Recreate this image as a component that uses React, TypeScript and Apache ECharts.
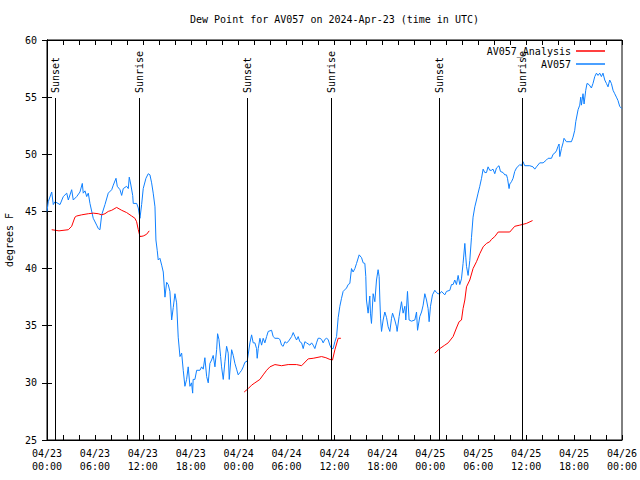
import React, { useEffect, useRef } from "react";
import * as echarts from "echarts";

// Hours since 2024-04-23 00:00 UTC
const obsHours = [0.0,0.16,0.59,0.79,1.0,1.63,2.04,2.47,2.67,3.09,3.29,3.72,4.13,4.42,4.54,4.76,4.97,5.17,5.38,5.79,6.22,6.42,6.63,6.85,7.26,7.67,8.1,8.3,8.64,8.8,9.14,9.35,9.55,9.97,10.18,10.3,10.48,10.73,10.8,11.23,11.43,11.64,11.85,12.05,12.39,12.68,12.89,13.1,13.3,13.52,13.64,13.8,13.93,14.14,14.36,14.56,14.77,14.98,15.18,15.39,15.61,15.81,16.02,16.23,16.43,16.65,16.86,17.06,17.27,17.48,17.68,17.9,18.1,18.24,18.3,18.52,18.74,19.15,19.36,19.56,19.77,19.99,20.19,20.4,20.61,20.81,21.03,21.24,21.36,21.53,21.74,21.86,22.07,22.28,22.49,22.69,22.82,23.12,23.32,23.53,23.74,23.94,24.15,24.37,24.57,24.78,25.07,25.41,25.62,25.82,26.03,26.24,26.32,26.45,26.66,26.87,27.07,27.28,27.5,27.7,28.12,28.32,28.54,28.95,29.16,29.37,29.57,29.79,30.0,30.2,30.63,30.83,31.04,31.25,31.45,31.66,31.88,32.08,32.29,32.5,32.92,33.13,33.33,33.54,33.75,33.95,34.17,34.38,34.58,34.79,35.0,35.2,35.42,35.63,35.83,36.05,36.26,36.46,36.67,36.88,37.08,37.51,37.71,37.92,38.13,38.33,38.55,38.76,39.09,39.39,39.59,39.8,39.92,40.0,40.21,40.42,40.5,40.63,40.84,41.05,41.26,41.46,41.59,41.68,41.77,41.89,42.09,42.3,42.52,42.72,42.93,43.14,43.27,43.55,43.77,43.84,44.09,44.39,44.59,44.81,44.93,45.14,45.34,45.64,46.06,46.27,46.4,46.68,46.9,47.1,47.31,47.52,47.72,47.85,48.02,48.27,48.56,48.77,48.97,49.19,49.4,49.81,50.02,50.44,50.65,50.85,51.06,51.27,51.48,51.69,51.9,52.1,52.32,52.44,52.53,52.73,52.94,53.15,53.35,53.57,53.78,53.98,54.19,54.41,54.61,54.82,55.03,55.23,55.44,55.65,55.85,56.07,56.28,56.6,56.78,57.11,57.32,57.53,57.66,57.86,57.95,58.16,58.36,58.57,58.79,59.2,59.41,59.61,59.82,60.45,60.86,61.08,61.29,61.7,62.12,62.54,62.75,63.17,63.37,63.58,63.79,63.99,64.12,64.21,64.42,64.62,64.74,65.04,65.67,65.87,66.08,66.21,66.5,66.71,66.83,66.92,67.12,67.25,67.46,67.62,67.87,68.17,68.37,68.59,68.8,69.0,69.21,69.42,69.62,69.84,70.05,70.25,70.46,70.67,70.88,71.09,71.3,71.5,71.71,71.96];
const obsDew = [45.0,45.85,46.7,45.6,45.85,45.6,46.3,46.6,46.0,46.9,46.0,46.3,46.7,47.45,46.6,46.8,46.3,46.6,45.7,44.4,43.8,43.5,43.4,44.7,45.6,46.6,46.9,47.3,47.9,47.2,46.9,46.4,47.0,47.2,47.0,48.0,47.4,46.4,45.7,45.7,45.3,44.4,45.6,47.0,47.9,48.3,48.2,47.5,46.6,45.4,42.5,41.6,40.75,40.9,40.3,39.7,37.5,38.8,38.6,38.0,35.5,36.6,37.8,37.0,34.0,32.3,32.6,31.1,29.7,30.3,31.4,29.7,30.0,29.1,30.3,30.3,31.1,31.1,31.4,31.2,32.2,30.55,30.0,31.7,32.0,32.4,31.4,32.9,34.3,33.8,32.3,31.4,30.3,31.85,33.2,32.6,30.3,32.9,32.4,31.7,31.2,30.7,30.9,31.1,31.4,31.8,31.9,33.5,34.2,33.5,33.5,33.0,32.15,33.0,33.9,33.3,33.9,33.5,34.05,34.5,34.6,34.05,33.9,33.9,33.8,33.3,33.2,33.6,33.5,33.6,34.05,34.4,34.05,33.75,34.05,33.6,33.5,33.0,33.6,33.5,33.3,33.5,33.3,33.0,33.5,33.9,33.9,33.8,33.5,33.8,33.9,33.8,33.3,33.0,33.0,33.6,34.05,35.7,36.7,37.4,38.0,38.3,38.6,38.7,40.0,39.7,40.0,40.45,41.2,40.95,40.5,40.45,39.3,37.25,36.1,37.6,36.1,35.2,37.8,37.1,39.0,39.9,39.3,37.25,35.6,34.5,35.5,36.2,35.7,34.9,34.5,35.65,36.1,35.5,34.9,34.5,35.8,37.1,36.1,36.7,35.5,38.0,35.5,35.4,35.5,36.2,34.6,35.8,36.2,36.8,37.8,37.25,36.5,35.35,36.7,37.7,38.1,37.9,37.8,37.8,38.0,37.7,38.0,38.1,38.6,38.6,39.0,38.6,39.4,38.6,39.1,40.45,42.2,41.0,40.2,39.4,40.7,42.7,44.5,45.4,46.0,46.6,47.2,47.9,48.7,48.4,48.4,48.9,48.6,48.6,48.7,48.3,48.8,49.0,48.5,48.4,48.2,48.2,47.9,47.0,47.4,47.6,47.9,48.5,48.8,49.1,49.0,49.35,49.0,49.0,48.9,48.7,48.9,49.25,49.25,49.5,49.65,49.65,50.0,50.1,50.3,50.7,50.9,49.8,50.5,51.0,51.4,51.1,51.1,51.5,52.1,52.85,53.9,54.3,55.0,54.3,55.3,54.4,55.6,56.2,56.1,55.8,56.2,56.8,57.1,56.9,57.1,56.8,57.1,56.5,56.2,55.9,56.5,56.2,55.6,55.3,55.0,54.7,54.2,54.0];

// Analysis values; null marks the gaps between runs
const anaHours = [0.59,1.5,2.67,3.09,3.5,3.72,4.33,5.17,5.79,6.42,6.85,7.26,7.67,8.1,8.72,9.35,9.97,10.6,11.01,11.22,11.43,11.64,12.05,12.47,12.8,18.0,24.69,25.2,25.62,26.03,26.66,27.07,27.5,27.91,28.54,29.37,30.2,31.25,31.88,32.71,33.33,34.38,34.92,35.42,35.75,36.05,36.46,36.8,42.0,48.56,49.19,49.81,50.23,50.85,51.27,51.6,51.9,52.1,52.32,52.53,52.94,53.35,53.78,54.19,54.61,55.03,55.44,55.65,56.07,56.5,57.95,58.57,59.2,60.03,60.8];
const anaDew = [43.4,43.3,43.4,43.7,44.5,44.6,44.7,44.8,44.85,44.8,44.7,44.8,45.0,45.1,45.35,45.1,44.9,44.6,44.4,44.1,43.4,42.8,42.85,43.0,43.3,null,29.2,29.5,29.8,30.0,30.3,30.7,31.1,31.4,31.6,31.5,31.6,31.6,31.5,32.1,32.15,32.3,32.2,32.05,32.0,32.9,33.9,33.9,null,32.6,33.0,33.3,33.5,34.05,34.8,35.35,35.5,36.5,37.25,38.4,39.0,40.0,40.6,41.3,41.9,42.2,42.35,42.55,42.8,43.2,43.2,43.7,43.8,43.95,44.2];

const sunHours = [1.0, 11.5, 25.0, 35.5, 49.05, 59.45];
const sunLabels = ["Sunset", "Sunrise", "Sunset", "Sunrise", "Sunset", "Sunrise"];

const FONT = "DejaVu Sans Mono";

function fmtHour(v: number): string {
  if (Math.abs(v % 6) > 1e-6) return "";
  const day = 23 + Math.floor(v / 24);
  const hh = Math.round(v % 24);
  return "04/" + String(day).padStart(2, "0") + "\n" + String(hh).padStart(2, "0") + ":00";
}

export default function App() {
  const ref = useRef<HTMLDivElement>(null);
  useEffect(() => {
    if (!ref.current) return;
    const chart = echarts.init(ref.current, undefined, { renderer: "svg" });
    const tickStyle = { show: true, inside: true, length: 5, lineStyle: { color: "#000", width: 1 } };
    const option: any = {
      animation: false,
      backgroundColor: "#fff",
      textStyle: { fontFamily: FONT, fontSize: 10, color: "#000" },
      title: {
        text: "Dew Point for AV057 on 2024-Apr-23 (time in UTC)",
        left: 185,
        top: 9,
        textStyle: { fontFamily: FONT, fontSize: 10, fontWeight: "normal", color: "#000" },
      },
      legend: {
        data: ["AV057_Analysis", "AV057"],
        orient: "vertical",
        align: "right",
        right: 30,
        top: 41,
        itemWidth: 29,
        itemHeight: 1.5,
        itemGap: 3,
        icon: "rect",
        textStyle: { fontFamily: FONT, fontSize: 10, color: "#000" },
      },
      grid: {
        left: 47,
        right: 18,
        top: 40,
        bottom: 40,
        outerBoundsMode: "none",
        containLabel: false,
        show: true,
        borderColor: "#000",
        borderWidth: 1,
        backgroundColor: "transparent",
      },
      xAxis: [
        {
          type: "value",
          min: 0,
          max: 72,
          interval: 2,
          axisLine: { show: true, lineStyle: { color: "#000" } },
          axisTick: tickStyle,
          splitLine: { show: false },
          axisLabel: {
            formatter: fmtHour,
            fontFamily: FONT,
            fontSize: 10,
            color: "#000",
            lineHeight: 13,
            margin: 7,
            showMinLabel: true,
            showMaxLabel: true,
          },
        },
        {
          type: "value",
          position: "top",
          min: 0,
          max: 72,
          interval: 2,
          axisLine: { show: true, lineStyle: { color: "#000" } },
          axisTick: tickStyle,
          splitLine: { show: false },
          axisLabel: { show: false },
        },
      ],
      yAxis: [
        {
          type: "value",
          min: 25,
          max: 60,
          interval: 5,
          name: "degrees F",
          nameLocation: "middle",
          nameGap: 32,
          nameTextStyle: { fontFamily: FONT, fontSize: 10, color: "#000" },
          axisLine: { show: true, lineStyle: { color: "#000" } },
          axisTick: tickStyle,
          splitLine: { show: false },
          axisLabel: { fontFamily: FONT, fontSize: 10, color: "#000", margin: 10 },
        },
        {
          type: "value",
          position: "right",
          min: 25,
          max: 60,
          interval: 5,
          axisLine: { show: true, lineStyle: { color: "#000" } },
          axisTick: tickStyle,
          splitLine: { show: false },
          axisLabel: { show: false },
        },
      ],
      series: [
        {
          name: "AV057",
          type: "line",
          data: obsHours.map((h, i) => [h, obsDew[i]]),
          showSymbol: false,
          symbol: "none",
          lineStyle: { color: "#0f80ff", width: 1 },
          itemStyle: { color: "#0f80ff" },
          z: 3,
        },
        {
          name: "AV057_Analysis",
          type: "line",
          data: anaHours.map((h, i) => [h, anaDew[i] === null ? "-" : anaDew[i]]),
          showSymbol: false,
          symbol: "none",
          connectNulls: false,
          lineStyle: { color: "#ff0000", width: 1 },
          itemStyle: { color: "#ff0000" },
          z: 4,
        },
        {
          name: "sun",
          type: "custom",
          data: sunHours.map((h, i) => [h, 25, i]),
          encode: { x: 0, y: 1 },
          z: 5,
          renderItem: (params: any, api: any) => {
            const x = Math.round(api.coord([api.value(0), 25])[0]) + 0.5;
            const bottom = api.coord([0, 25])[1];
            const top = api.coord([0, 60])[1];
            const idx = api.value(2);
            return {
              type: "group",
              children: [
                {
                  type: "line",
                  shape: { x1: x, y1: top + 58, x2: x, y2: bottom },
                  style: { stroke: "#000", lineWidth: 1 },
                },
                {
                  type: "text",
                  x: x,
                  y: top + 53,
                  rotation: Math.PI / 2,
                  style: {
                    text: sunLabels[idx],
                    fontFamily: FONT,
                    fontSize: 10,
                    fill: "#000",
                    align: "left",
                    verticalAlign: "middle",
                  },
                },
              ],
            };
          },
        },
      ],
    };
    chart.setOption(option);
    return () => chart.dispose();
  }, []);
  return <div ref={ref} style={{ position: "fixed", left: 0, top: 0, width: 640, height: 480 }} />;
}
